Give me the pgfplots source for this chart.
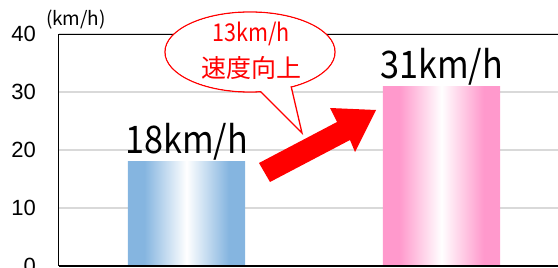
\documentclass[border=0pt]{standalone}
\usepackage{fontspec}
\setmainfont{Liberation Sans}
\newfontfamily\jp{Noto Sans CJK JP}
\usepackage{graphicx}
\usepackage{pgfplots}
\pgfplotsset{compat=1.18}
\definecolor{bblue}{RGB}{133,181,224}
\definecolor{bpink}{RGB}{255,153,204}
\definecolor{gridgray}{RGB}{217,217,217}
\pgfdeclarehorizontalshading{blueshade}{100bp}{color(0bp)=(bblue); color(25bp)=(bblue); color(32bp)=(bblue); color(50bp)=(white); color(68bp)=(bblue); color(75bp)=(bblue); color(100bp)=(bblue)}
\pgfdeclarehorizontalshading{pinkshade}{100bp}{color(0bp)=(bpink); color(25bp)=(bpink); color(32bp)=(bpink); color(50bp)=(white); color(68bp)=(bpink); color(75bp)=(bpink); color(100bp)=(bpink)}
\begin{document}
\begin{tikzpicture}
\useasboundingbox (0,0) rectangle (558pt,268pt);
\clip (0,0) rectangle (558pt,268pt);
\begin{axis}[
  at={(59pt,2pt)}, anchor=south west,
  scale only axis, width=510pt, height=232pt,
  xmin=-0.5, xmax=1.5, ymin=0, ymax=40,
  ytick={0,10,20,30,40}, xtick=\empty,
  ymajorgrids, grid style={gridgray, line width=1.2pt},
  axis line style={black, line width=1pt},
  major tick length=0pt,
  yticklabel style={anchor=east, inner sep=0pt, xshift=-23pt, font=\fontsize{22}{22}\selectfont},
  /pgf/number format/assume math mode=true,
  ybar, bar width=117pt, bar shift=0pt,
  clip=false,
  every node near coord/.append style={anchor=base, yshift=8pt, inner sep=0pt, text=black, font=\jp\fontsize{38}{38}\selectfont},
]
\addplot[draw=none, shade, shading=blueshade, nodes near coords={\scalebox{0.9}[1]{18km/h}}] coordinates {(0,18)};
\addplot[draw=none, shade, shading=pinkshade, nodes near coords={\scalebox{0.9}[1]{31km/h}}] coordinates {(1,31)};
\draw[black, line width=2pt] (axis cs:-0.5,0) -- (axis cs:1.5,0);
\end{axis}
\node[font=\jp\fontsize{19}{19}\selectfont] at (76pt,248pt) {(km/h)};
% callout
\draw[red, line width=1.3pt, fill=white] (250pt,216pt) ellipse [x radius=85pt, y radius=40pt];
\draw[red, line width=1.3pt, fill=white, line join=miter] (245pt,192pt) -- (302pt,135pt) -- (288.7pt,192pt);
\fill[white] (250pt,216pt) ellipse [x radius=84.2pt, y radius=39.2pt];
\node[text=red, font=\jp\fontsize{24.5}{24.5}\selectfont] at (251pt,234pt) {\scalebox{0.88}[1]{13km/h}};
\node[text=red, font=\jp\fontsize{25}{25}\selectfont] at (251pt,200pt) {速度向上};
% arrow
\fill[red] (259pt,105pt) -- (337pt,146pt) -- (330pt,160pt) -- (376pt,158pt) -- (355pt,116pt) -- (350pt,128pt) -- (270pt,86pt) -- cycle;
\end{tikzpicture}
\end{document}
